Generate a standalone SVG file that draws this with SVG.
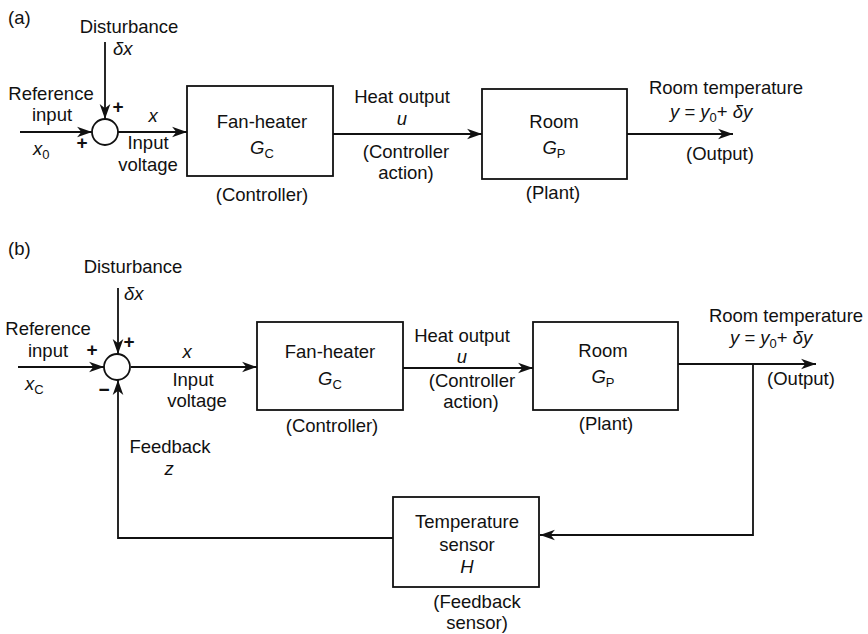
<svg xmlns="http://www.w3.org/2000/svg" width="868" height="634" viewBox="0 0 868 634">
<style>
text{font-family:"Liberation Sans",Arial,sans-serif;font-size:18.5px;fill:#111}
.m{text-anchor:middle}
.i{font-style:italic}
.s{font-size:13px;font-style:normal}
.sg{font-size:19px;font-weight:bold}
.box{fill:#fff;stroke:#111;stroke-width:1.8}
.ln{fill:none;stroke:#111;stroke-width:1.8}
</style>
<defs>
<marker id="ah" markerUnits="userSpaceOnUse" markerWidth="16" markerHeight="12" refX="14" refY="5" orient="auto" viewBox="0 0 15 10">
<path d="M0,0 L14,5 L0,10 L4,5 Z" fill="#111"/>
</marker>
</defs>

<text x="8" y="24">(a)</text>
<text x="8" y="255">(b)</text>

<g id="connectors">
<line class="ln" x1="105" y1="42" x2="105" y2="119" marker-end="url(#ah)"/>
<line class="ln" x1="20" y1="132" x2="92" y2="132" marker-end="url(#ah)"/>
<line class="ln" x1="118" y1="132" x2="187" y2="132" marker-end="url(#ah)"/>
<line class="ln" x1="333" y1="134" x2="482" y2="134" marker-end="url(#ah)"/>
<line class="ln" x1="627" y1="134" x2="733" y2="134" marker-end="url(#ah)"/>
<line class="ln" x1="118" y1="288" x2="118" y2="354" marker-end="url(#ah)"/>
<line class="ln" x1="18" y1="367" x2="104" y2="367" marker-end="url(#ah)"/>
<line class="ln" x1="131" y1="367" x2="257" y2="367" marker-end="url(#ah)"/>
<line class="ln" x1="403" y1="368" x2="533" y2="368" marker-end="url(#ah)"/>
<line class="ln" x1="678" y1="364" x2="816" y2="364" marker-end="url(#ah)"/>
<polyline class="ln" points="753,364 753,535 540,535" marker-end="url(#ah)"/>
<polyline class="ln" points="393,538 118,538 118,380" marker-end="url(#ah)"/>
</g>

<g id="sum-a">
<circle class="box" cx="105" cy="132" r="13"/>
<text class="m sg" x="118" y="113">+</text>
<text class="m sg" x="82" y="149">+</text>
</g>
<g id="disturbance-a">
<text class="m" x="129" y="33">Disturbance</text>
<text class="i" x="113" y="55">δx</text>
</g>
<g id="ref-a">
<text class="m" x="51" y="100">Reference</text>
<text class="m" x="52" y="121">input</text>
<text class="i" x="33" y="155">x<tspan class="s" dy="4">0</tspan></text>
</g>
<g id="x-a">
<text class="m i" x="153" y="122">x</text>
<text class="m" x="148" y="149">Input</text>
<text class="m" x="148" y="171">voltage</text>
</g>
<g id="controller-a">
<rect class="box" x="187" y="86" width="146" height="90"/>
<text class="m" x="262" y="128">Fan-heater</text>
<text class="m i" x="262" y="154">G<tspan class="s" dy="4">C</tspan></text>
<text class="m" x="262" y="201">(Controller)</text>
</g>
<g id="heat-a">
<text class="m" x="402" y="103">Heat output</text>
<text class="m i" x="402" y="125">u</text>
<text class="m" x="406" y="158">(Controller</text>
<text class="m" x="406" y="179">action)</text>
</g>
<g id="plant-a">
<rect class="box" x="482" y="89" width="145" height="90"/>
<text class="m" x="554" y="128">Room</text>
<text class="m i" x="554" y="154">G<tspan class="s" dy="4">P</tspan></text>
<text class="m" x="553" y="199">(Plant)</text>
</g>
<g id="output-a">
<text class="m" x="726" y="94">Room temperature</text>
<text class="i" x="670" y="118">y<tspan font-style="normal"> = </tspan>y<tspan class="s" dy="4">0</tspan><tspan font-style="normal" dy="-4">+ </tspan>δy</text>
<text class="m" x="720" y="160">(Output)</text>
</g>

<g id="sum-b">
<circle class="box" cx="117" cy="367" r="13"/>
<text class="m sg" x="129" y="348">+</text>
<text class="m sg" x="92" y="356">+</text>
<text class="m sg" x="104" y="396">−</text>
</g>
<g id="disturbance-b">
<text class="m" x="133" y="273">Disturbance</text>
<text class="i" x="124" y="300">δx</text>
</g>
<g id="ref-b">
<text class="m" x="48" y="335">Reference</text>
<text class="m" x="48" y="357">input</text>
<text class="i" x="25" y="390">x<tspan class="s" dy="4">C</tspan></text>
</g>
<g id="x-b">
<text class="m i" x="187" y="358">x</text>
<text class="m" x="193" y="386">Input</text>
<text class="m" x="197" y="407">voltage</text>
</g>
<g id="controller-b">
<rect class="box" x="257" y="322" width="146" height="88"/>
<text class="m" x="330" y="358">Fan-heater</text>
<text class="m i" x="330" y="385">G<tspan class="s" dy="4">C</tspan></text>
<text class="m" x="332" y="432">(Controller)</text>
</g>
<g id="heat-b">
<text class="m" x="462" y="342">Heat output</text>
<text class="m i" x="462" y="363">u</text>
<text class="m" x="472" y="387">(Controller</text>
<text class="m" x="471" y="408">action)</text>
</g>
<g id="plant-b">
<rect class="box" x="533" y="322" width="145" height="88"/>
<text class="m" x="603" y="357">Room</text>
<text class="m i" x="603" y="383">G<tspan class="s" dy="4">P</tspan></text>
<text class="m" x="606" y="430">(Plant)</text>
</g>
<g id="output-b">
<text class="m" x="786" y="322">Room temperature</text>
<text class="i" x="730" y="344">y<tspan font-style="normal"> = </tspan>y<tspan class="s" dy="4">0</tspan><tspan font-style="normal" dy="-4">+ </tspan>δy</text>
<text class="m" x="801" y="385">(Output)</text>
</g>
<g id="sensor-b">
<rect class="box" x="393" y="497" width="146" height="90"/>
<text class="m" x="467" y="528">Temperature</text>
<text class="m" x="467" y="551">sensor</text>
<text class="m i" x="467" y="573">H</text>
<text class="m" x="477" y="608">(Feedback</text>
<text class="m" x="477" y="629">sensor)</text>
</g>
<g id="feedback-b">
<text class="m" x="170" y="453">Feedback</text>
<text class="m i" x="169" y="475">z</text>
</g>
</svg>
